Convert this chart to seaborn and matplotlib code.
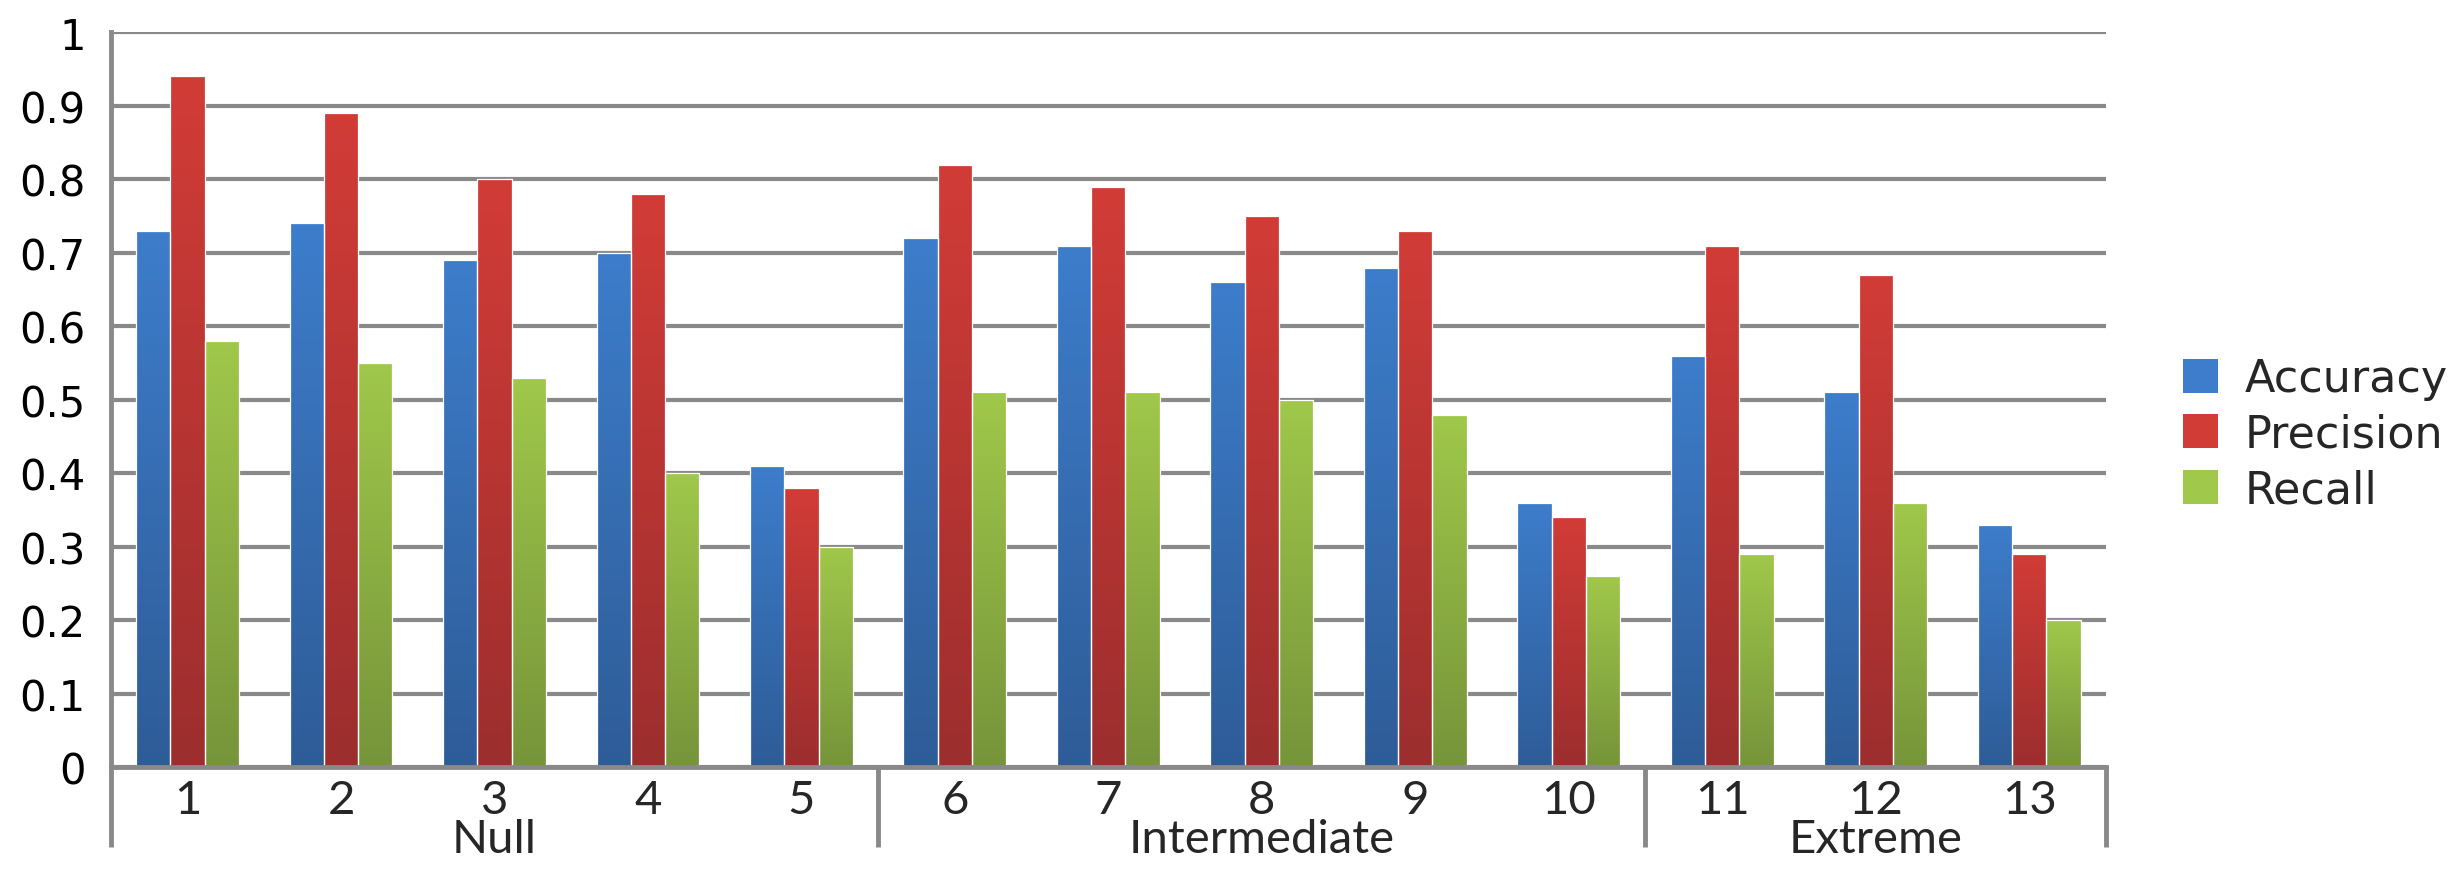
import numpy as np
import pandas as pd
import matplotlib
matplotlib.use("Agg")
import matplotlib.pyplot as plt
import matplotlib.transforms as mtransforms
from matplotlib.colors import LinearSegmentedColormap
from matplotlib.patches import Patch
import seaborn as sns

# ---- data ----
cases = ["1", "2", "3", "4", "5", "6", "7", "8", "9", "10", "11", "12", "13"]
groups = ["Null", "Intermediate", "Extreme"]
group_sizes = [5, 5, 3]
metrics = ["Accuracy", "Precision", "Recall"]
accuracy = [0.73, 0.74, 0.69, 0.70, 0.41, 0.72, 0.71, 0.66, 0.68, 0.36, 0.56, 0.51, 0.33]
precision = [0.94, 0.89, 0.80, 0.78, 0.38, 0.82, 0.79, 0.75, 0.73, 0.34, 0.71, 0.67, 0.29]
recall = [0.58, 0.55, 0.53, 0.40, 0.30, 0.51, 0.51, 0.50, 0.48, 0.26, 0.29, 0.36, 0.20]
yticks = [0, 0.1, 0.2, 0.3, 0.4, 0.5, 0.6, 0.7, 0.8, 0.9, 1]
ytick_labels = ["0", "0.1", "0.2", "0.3", "0.4", "0.5", "0.6", "0.7", "0.8", "0.9", "1"]

df = pd.DataFrame({
    "case": cases * 3,
    "metric": sum([[m] * len(cases) for m in metrics], []),
    "value": accuracy + precision + recall,
})

# gradient colours (top, bottom)
grad = {
    "Accuracy": ("#3D7DCB", "#2E5C97"),
    "Precision": ("#D23C37", "#9C2E2E"),
    "Recall": ("#A0C84A", "#76943A"),
}
mid = {k: v[0] for k, v in grad.items()}

sns.set_theme(style="white")
plt.rcParams["font.family"] = ["DejaVu Sans"]

fig = plt.figure(figsize=(24.63, 8.79), dpi=100)
ax = fig.add_axes([0.045, 0.126, 0.81, 0.836])

sns.barplot(data=df, x="case", y="value", hue="metric", order=cases,
            hue_order=metrics, palette=mid, width=0.67, dodge=True,
            ax=ax, legend=False, edgecolor="white", linewidth=0.9,
            saturation=1, zorder=3)

# gradient fill for each bar
n = len(cases)
for i, patch in enumerate(ax.patches[: 3 * n]):
    m = metrics[i // n]
    top, bot = grad[m]
    cmap = LinearSegmentedColormap.from_list(m, [bot, top])
    x0, y0 = patch.get_x(), patch.get_y()
    w, h = patch.get_width(), patch.get_height()
    img = ax.imshow(np.linspace(0, 1, 256).reshape(-1, 1), cmap=cmap,
                    extent=[x0, x0 + w, y0, y0 + h], origin="lower",
                    aspect="auto", zorder=3.5, interpolation="bicubic")
    img.set_clip_path(patch)
    patch.set_facecolor("none")
    patch.set_zorder(4)
ax.set_ylim(0, 1)
ax.set_xlim(-0.5, len(cases) - 0.5)
ax.set_aspect("auto")

# grid and spines
gray = "#898989"
ax.set_yticks(yticks)
ax.set_yticklabels(ytick_labels, fontsize=30, color="black")
ax.yaxis.grid(True, color=gray, linewidth=3, zorder=0)
ax.set_axisbelow(True)
ax.tick_params(axis="y", length=0, pad=18)
for s in ["top", "right"]:
    ax.spines[s].set_visible(False)
for s in ["left", "bottom"]:
    ax.spines[s].set_color(gray)
    ax.spines[s].set_linewidth(3.5)
ax.spines["bottom"].set_zorder(5)

# category labels
ax.set_xticks(range(n))
ax.set_xticklabels([])
ax.tick_params(axis="x", length=0)
ax.set_xlabel("")
ax.set_ylabel("")
trans = mtransforms.blended_transform_factory(ax.transData, ax.transAxes)
for i, c in enumerate(cases):
    ax.text(i, -0.044, c, transform=trans, ha="center", va="center",
            fontsize=34, family=["Lato", "DejaVu Sans"])

start = 0
bounds = [-0.5]
for g, sz in zip(groups, group_sizes):
    center = start + (sz - 1) / 2
    ax.text(center, -0.097, g, transform=trans, ha="center", va="center",
            fontsize=34, family=["Lato", "DejaVu Sans"])
    start += sz
    bounds.append(start - 0.5)
for b in bounds:
    ax.plot([b, b], [0, -0.108], transform=trans, color=gray, linewidth=3.5,
            clip_on=False, solid_capstyle="butt")

# legend
handles = [Patch(facecolor=grad[m][0], edgecolor="none") for m in metrics]
fig.legend(handles, metrics, loc="center left", bbox_to_anchor=(0.87, 0.505),
           frameon=False, fontsize=32, handlelength=0.8, handleheight=0.8,
           handletextpad=0.6, labelspacing=0.28)

fig.savefig("out.png", dpi=100)
